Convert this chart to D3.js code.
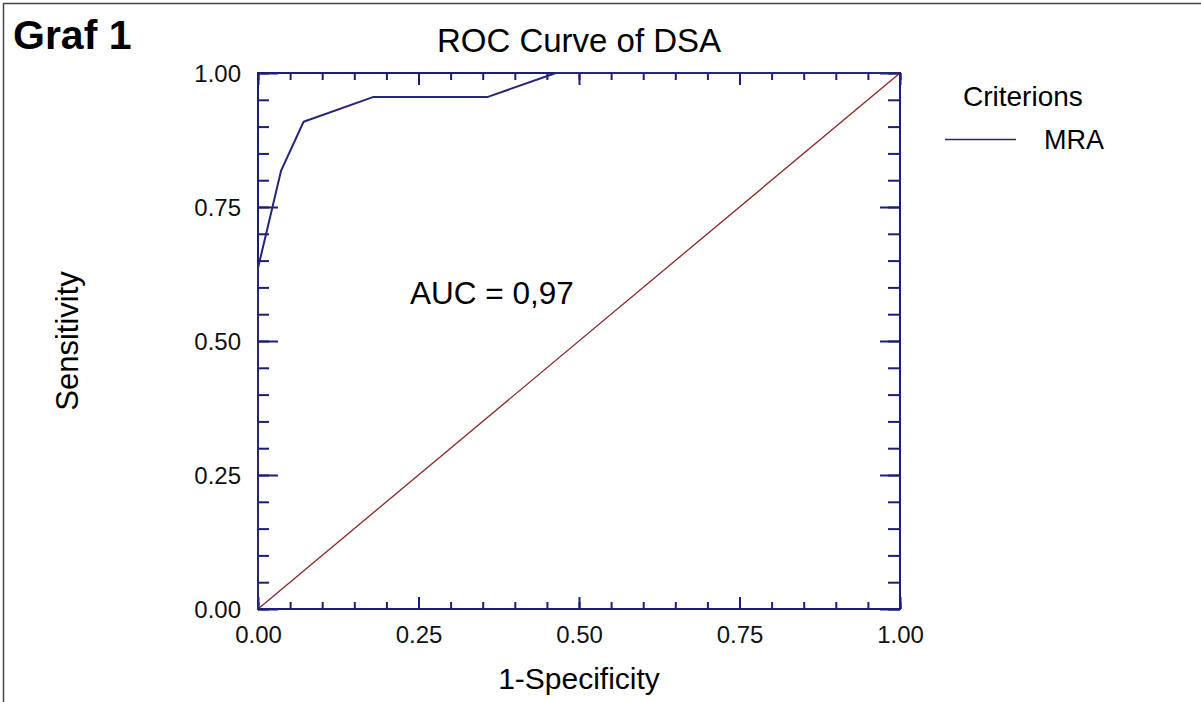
<!DOCTYPE html>
<html>
<head>
<meta charset="utf-8">
<script src="https://cdn.jsdelivr.net/npm/d3@7"></script>
<style>
  body { margin: 0; background: #fff; }
  svg { display: block; font-family: "Liberation Sans", Arial, sans-serif; }
</style>
</head>
<body>
<svg></svg>
<script>
let width = 1201,
    height = 702,
    plotLeft = 258, plotRight = 900,
    plotTop = 73, plotBottom = 609,
    axisColor = "#1c1c7a"

// ROC points of the MRA criterion (1-specificity, sensitivity)
const fpr = [0, 0, 0.036, 0.071, 0.179, 0.357, 0.464, 1]
const sens = [0, 0.636, 0.818, 0.909, 0.955, 0.955, 1, 1]
const majorTicks = [0, 0.25, 0.5, 0.75, 1]
const minorTicks = d3.range(0, 1.0001, 0.05)
const seriesName = "MRA"
const aucLabel = "AUC = 0,97"

const svg = d3.select("svg")
    .attr("width", width)
    .attr("height", height)

const x = d3.scaleLinear().domain([0, 1]).range([plotLeft, plotRight])
const y = d3.scaleLinear().domain([0, 1]).range([plotBottom, plotTop])

// frame round the picture (top and left edges only)
svg.append("path")
    .attr("d", `M3.5,${height} V3.5 H${width}`)
    .attr("fill", "none")
    .attr("stroke", "#444")
    .attr("stroke-width", 1.5)

svg.append("text")
    .attr("x", 13)
    .attr("y", 49)
    .style("font-weight", "bold")
    .style("font-size", "41px")
    .text("Graf 1")

svg.append("text")
    .attr("x", (plotLeft + plotRight) / 2)
    .attr("y", 52)
    .attr("text-anchor", "middle")
    .style("font-size", "33px")
    .text("ROC Curve of DSA")

// axes: ticks point inward, majors longer than minors
const styleAxis = g => {
    g.select(".domain").remove()
    g.selectAll("line").attr("stroke", axisColor).attr("stroke-width", 2)
}

const addAxis = (axis, scale, tx, ty, values, size, labels) => {
    const g = svg.append("g")
        .attr("transform", `translate(${tx},${ty})`)
        .call(axis(scale).tickValues(values).tickSize(-size)
            .tickFormat(labels ? d3.format(".2f") : ""))
    styleAxis(g)
    return g
}

addAxis(d3.axisBottom, x, 0, plotBottom, minorTicks, 7, false)
addAxis(d3.axisTop, x, 0, plotTop, minorTicks, 7, false)
addAxis(d3.axisLeft, y, plotLeft, 0, minorTicks, 11, false)
addAxis(d3.axisRight, y, plotRight, 0, minorTicks, 12, false)
addAxis(d3.axisTop, x, 0, plotTop, majorTicks, 12, false)
addAxis(d3.axisRight, y, plotRight, 0, majorTicks, 20, false)

const xAx = addAxis(d3.axisBottom, x, 0, plotBottom, majorTicks, 12, true)
xAx.selectAll("text")
    .attr("y", 34).attr("dy", 0)
    .attr("fill", "#111")
    .style("font-size", "24px")

const yAx = addAxis(d3.axisLeft, y, plotLeft, 0, majorTicks, 20, true)
yAx.selectAll("text")
    .attr("x", -17)
    .attr("dy", "0.36em")
    .attr("fill", "#111")
    .style("font-size", "24px")

svg.append("rect")
    .attr("x", plotLeft).attr("y", plotTop)
    .attr("width", plotRight - plotLeft).attr("height", plotBottom - plotTop)
    .attr("fill", "none")
    .attr("stroke", axisColor)
    .attr("stroke-width", 2)

// reference diagonal
svg.append("line")
    .attr("x1", x(0)).attr("y1", y(0))
    .attr("x2", x(1)).attr("y2", y(1))
    .attr("stroke", "#8b2424")
    .attr("stroke-width", 1.3)

const line = d3.line()
    .x(d => x(d[0]))
    .y(d => y(d[1]))

svg.append("path")
    .datum(d3.zip(fpr, sens))
    .attr("d", line)
    .attr("fill", "none")
    .attr("stroke", "#25257a")
    .attr("stroke-width", 2)
    .attr("stroke-linejoin", "round")

svg.append("text")
    .attr("x", 410)
    .attr("y", 304)
    .style("font-size", "31.5px")
    .text(aucLabel)

svg.append("text")
    .attr("x", (plotLeft + plotRight) / 2)
    .attr("y", 689)
    .attr("text-anchor", "middle")
    .style("font-size", "30px")
    .text("1-Specificity")

svg.append("text")
    .attr("transform", `translate(78,${(plotTop + plotBottom) / 2}) rotate(-90)`)
    .attr("text-anchor", "middle")
    .style("font-size", "31px")
    .text("Sensitivity")

// legend
svg.append("text")
    .attr("x", 963)
    .attr("y", 106)
    .style("font-size", "28px")
    .text("Criterions")

svg.append("line")
    .attr("x1", 945).attr("x2", 1016)
    .attr("y1", 139.5).attr("y2", 139.5)
    .attr("stroke", "#25257a")
    .attr("stroke-width", 1.5)

svg.append("text")
    .attr("x", 1044)
    .attr("y", 149)
    .style("font-size", "27px")
    .text(seriesName)
</script>
</body>
</html>
